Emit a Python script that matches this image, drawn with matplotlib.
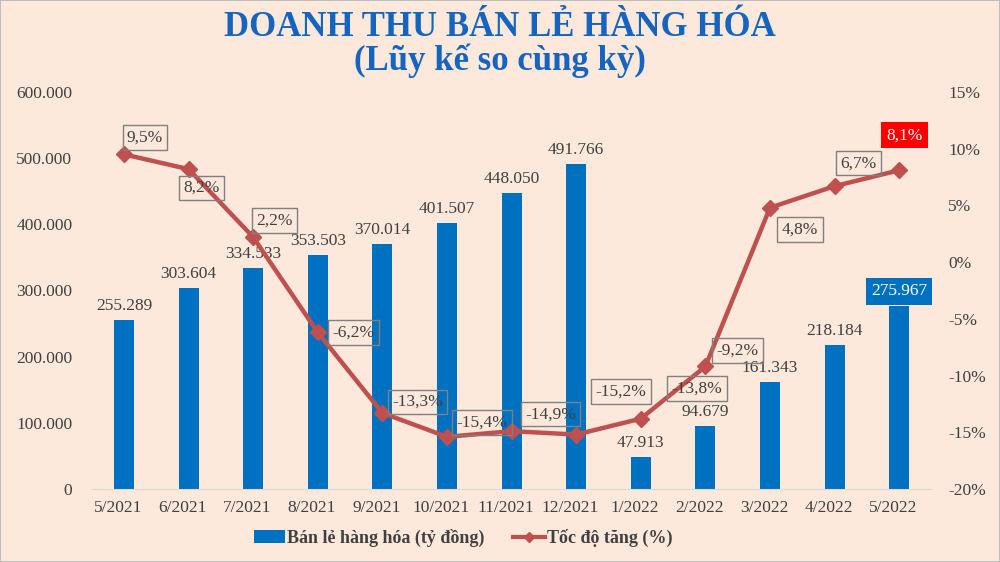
import matplotlib
matplotlib.use("Agg")
import matplotlib.pyplot as plt
from matplotlib.transforms import ScaledTranslation
from matplotlib.lines import Line2D
from matplotlib.patches import Patch, Rectangle

months = ["5/2021", "6/2021", "7/2021", "8/2021", "9/2021", "10/2021", "11/2021",
          "12/2021", "1/2022", "2/2022", "3/2022", "4/2022", "5/2022"]
revenue = [255289, 303604, 334533, 353503, 370014, 401507, 448050,
           491766, 47913, 94679, 161343, 218184, 275967]
growth = [9.5, 8.2, 2.2, -6.2, -13.3, -15.4, -14.9, -15.2, -13.8, -9.2, 4.8, 6.7, 8.1]
growth_labels = ["9,5%", "8,2%", "2,2%", "-6,2%", "-13,3%", "-15,4%", "-14,9%",
                 "-15,2%", "-13,8%", "-9,2%", "4,8%", "6,7%", "8,1%"]
revenue_labels = ["255.289", "303.604", "334.533", "353.503", "370.014", "401.507",
                  "448.050", "491.766", "47.913", "94.679", "161.343", "218.184", "275.967"]
left_ticks = [0, 100000, 200000, 300000, 400000, 500000, 600000]
left_tick_labels = ["0", "100.000", "200.000", "300.000", "400.000", "500.000", "600.000"]
right_ticks = [-20, -15, -10, -5, 0, 5, 10, 15]
right_tick_labels = ["-20%", "-15%", "-10%", "-5%", "0%", "5%", "10%", "15%"]

# label offsets in pixels (dx, dy) relative to each point
g_off = [(21, 17), (13, -19), (21, 17), (36, 0), (35, 11), (35, 14), (39, 17),
         (45, 43), (56, 30), (32, 16), (30, -22), (24, 23), (5, 35)]

BG = "#fce9dc"
BLUE = "#0070c0"
RED = "#c0504d"
TXT = "#404040"
FONT = "Liberation Serif"
FS = 12.5

plt.rcParams['font.family'] = [FONT, 'DejaVu Serif']

fig = plt.figure(figsize=(10, 5.62), dpi=100, facecolor=BG)
fig.patches.append(Rectangle((0, 0), 1, 1, transform=fig.transFigure, fill=False,
                             edgecolor="#bfbfbf", linewidth=1.5))
ax = fig.add_axes([0.0917, 1 - 489 / 562, 0.8398, (489 - 92) / 562])
ax.set_facecolor(BG)
ax2 = ax.twinx()

x = list(range(len(months)))
ax.bar(x, revenue, width=0.31, color=BLUE, zorder=2)
ax.set_xlim(-0.5, 12.5)
ax.set_ylim(0, 600000)
ax.set_yticks(left_ticks)
ax.set_yticklabels(left_tick_labels)
ax.set_xticks(x)
ax.set_xticklabels(months)
for sp in ["top", "left", "right"]:
    ax.spines[sp].set_visible(False)
    ax2.spines[sp].set_visible(False)
ax.spines["bottom"].set_color("#d9d9d9")
ax2.spines["bottom"].set_visible(False)
ax.tick_params(axis="both", length=0, labelsize=FS, labelcolor=TXT)
ax.tick_params(axis="y", pad=14)
ax.tick_params(axis="x", pad=8)
for lab in ax.get_xticklabels():
    lab.set_transform(lab.get_transform() + ScaledTranslation(-6 / 100, 0, fig.dpi_scale_trans))

ax2.plot(x, growth, color=RED, linewidth=3.2, marker="D", markersize=8, zorder=3)
ax2.set_ylim(-20, 15)
ax2.set_yticks(right_ticks)
ax2.set_yticklabels(right_tick_labels)
ax2.tick_params(axis="y", length=0, labelsize=FS, labelcolor=TXT, pad=12)

# bar labels
for i, (v, s) in enumerate(zip(revenue, revenue_labels)):
    if i == len(revenue) - 1:
        ax.annotate(s, (i, v), xytext=(0, 15), textcoords="offset pixels",
                    ha="center", va="center", fontsize=FS, color="white",
                    bbox=dict(boxstyle="square,pad=0.3", facecolor=BLUE, edgecolor="none"))
    else:
        ax.annotate(s, (i, v), xytext=(0, 14), textcoords="offset pixels",
                    ha="center", va="center", fontsize=FS, color=TXT)

# growth labels
for i, (v, s) in enumerate(zip(growth, growth_labels)):
    dx, dy = g_off[i]
    if i == len(growth) - 1:
        box = dict(boxstyle="square,pad=0.3", facecolor="#ff0000", edgecolor="none")
        col = "white"
    else:
        box = dict(boxstyle="square,pad=0.25", facecolor="none", edgecolor="#808080", linewidth=1)
        col = TXT
    ax2.annotate(s, (i, v), xytext=(dx, dy), textcoords="offset pixels",
                 ha="center", va="center", fontsize=FS, color=col, bbox=box, zorder=4)

# title
fig.text(0.5, 1 - 28 / 562, "DOANH THU BÁN LẺ HÀNG HÓA", ha="center", va="center",
         fontsize=25, fontweight="bold", color="#1565c0")
fig.text(0.5, 1 - 61 / 562, "(Lũy kế so cùng kỳ)", ha="center", va="center",
         fontsize=25, fontweight="bold", color="#1565c0")

handles = [Patch(facecolor=BLUE, edgecolor="none"),
           Line2D([0], [0], color=RED, linewidth=3, marker="D", markersize=5)]
fig.legend(handles, ["Bán lẻ hàng hóa (tỷ đồng)", "Tốc độ tăng (%)"],
           loc="center", bbox_to_anchor=(0.463, 1 - 538 / 562), ncol=2, frameon=False,
           prop=dict(family=FONT, weight="bold", size=13), labelcolor=TXT,
           handlelength=1.75, handletextpad=0.1, columnspacing=1.6)

fig.savefig("out.png", dpi=100, facecolor=BG)
